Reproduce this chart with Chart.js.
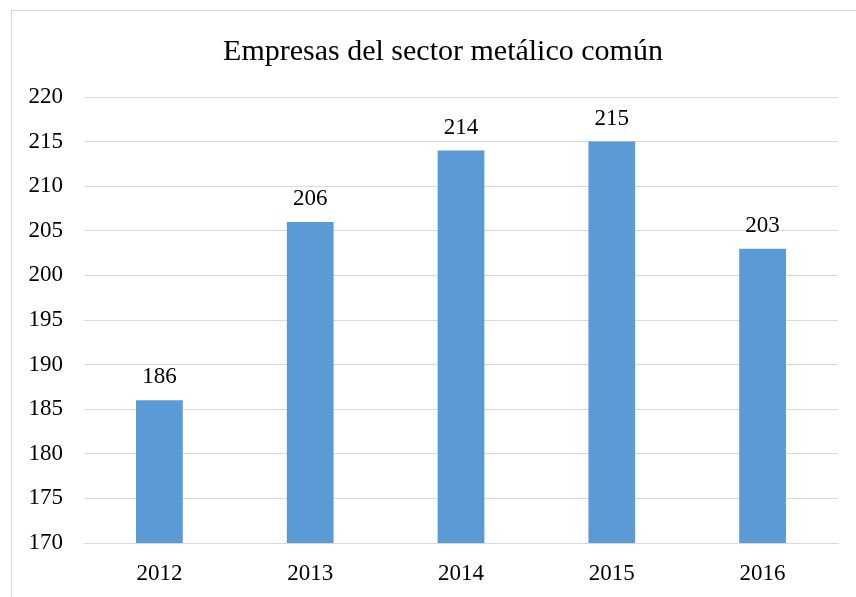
<!DOCTYPE html>
<html>
<head>
<meta charset="utf-8">
<script src="https://cdn.jsdelivr.net/npm/chart.js@4/dist/chart.umd.min.js"></script>
<style>
  html, body { margin: 0; padding: 0; background: #fff; }
  #wrap { width: 856px; height: 597px; }
</style>
</head>
<body>
<div id="wrap"><canvas id="myChart" width="856" height="597"></canvas></div>
<script>
const years = ['2012', '2013', '2014', '2015', '2016'];
const empresas = [186, 206, 214, 215, 203];
const yMin = 170;
const yMax = 220;
const yStep = 5;

const serif = '"Liberation Serif", "Times New Roman", serif';

// frame around the chart like the Excel chart area
const frame = {
  id: 'frame',
  beforeDraw(chart) {
    const c = chart.ctx;
    c.save();
    c.fillStyle = '#fff';
    c.fillRect(0, 0, chart.width, chart.height);
    c.strokeStyle = '#d9d9d9';
    c.lineWidth = 1;
    c.strokeRect(11.5, 10.5, 900, 700);
    c.restore();
  },
  // the chart frame runs past the right edge, so the title sits a bit to the right
  afterLayout(chart) {
    if (chart.titleBlock) {
      chart.titleBlock.left += 24;
      chart.titleBlock.right += 24;
    }
  }
};

// value labels on top of the bars
const barLabels = {
  id: 'barLabels',
  afterDatasetsDraw(chart) {
    const c = chart.ctx;
    const meta = chart.getDatasetMeta(0);
    c.save();
    c.font = '23px ' + serif;
    c.fillStyle = '#000';
    c.textAlign = 'center';
    c.textBaseline = 'alphabetic';
    meta.data.forEach((bar, i) => {
      c.fillText(empresas[i], bar.x, bar.y - 17);
    });
    c.restore();
  }
};

const ctx = document.getElementById('myChart').getContext('2d');
const myChart = new Chart(ctx, {
  type: 'bar',
  data: {
    labels: years,
    datasets: [{
      label: 'Empresas',
      data: empresas,
      backgroundColor: '#5b9bd5',
      borderWidth: 0,
      categoryPercentage: 1,
      barPercentage: 0.31
    }]
  },
  options: {
    responsive: false,
    animation: false,
    layout: { padding: { left: 0, right: 18, top: 0, bottom: 0 } },
    plugins: {
      legend: { display: false },
      tooltip: { enabled: false },
      title: {
        display: true,
        text: 'Empresas del sector metálico común',
        color: '#000',
        font: { family: serif, size: 30, weight: 'normal', lineHeight: 1.2 },
        padding: { top: 34, bottom: 27 }
      }
    },
    scales: {
      x: {
        grid: { display: false },
        border: { display: true, color: '#d9d9d9', width: 1 },
        ticks: {
          color: '#000',
          padding: 9,
          font: { family: serif, size: 23 }
        },
        afterFit(scale) { scale.height = 54; }
      },
      y: {
        min: yMin,
        max: yMax,
        border: { display: false },
        grid: { color: '#d9d9d9', lineWidth: 1, drawTicks: false },
        ticks: {
          stepSize: yStep,
          color: '#000',
          padding: 21,
          font: { family: serif, size: 23 }
        },
        afterFit(scale) { scale.width = 84; }
      }
    }
  },
  plugins: [frame, barLabels]
});
</script>
</body>
</html>
